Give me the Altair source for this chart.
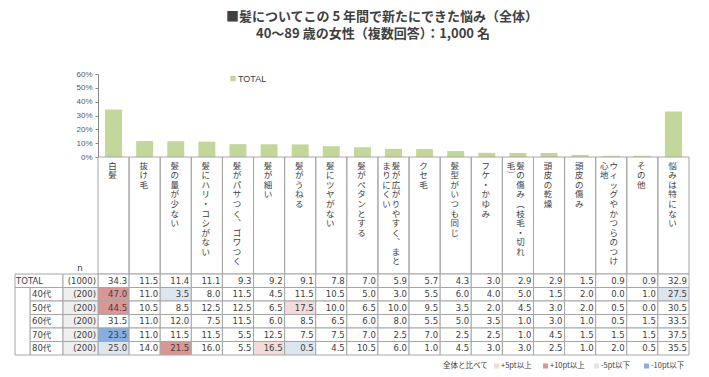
import altair as alt
import pandas as pd

title_lines = ["■髪についてこの 5 年間で新たにできた悩み（全体）",
               "40～89 歳の女性（複数回答）：1,000 名"]

categories = ["白髪", "抜け毛", "髪の量が少ない", "髪にハリ・コシがない", "髪がパサつく、ゴワつく",
              "髪が細い", "髪がうねる", "髪にツヤがない", "髪がペタンとする",
              "髪が広がりやすく、まとまりにくい", "クセ毛", "髪型がいつも同じ", "フケ・かゆみ",
              "髪の傷み（枝毛・切れ毛）", "頭皮の乾燥", "頭皮の傷み", "ウィッグやかつらのつけ心地",
              "その他", "悩みは特にない"]
# where a long label wraps into a second vertical column
label_breaks = {"髪が広がりやすく、まとまりにくい": 11, "髪の傷み（枝毛・切れ毛）": 10,
                "ウィッグやかつらのつけ心地": 11}

row_labels = ["TOTAL", "40代", "50代", "60代", "70代", "80代"]
row_n = [1000, 200, 200, 200, 200, 200]

total = [34.3, 11.5, 11.4, 11.1, 9.3, 9.2, 9.1, 7.8, 7.0, 5.9, 5.7, 4.3, 3.0, 2.9, 2.9, 1.5, 0.9, 0.9, 32.9]
age40 = [47.0, 11.0, 3.5, 8.0, 11.5, 4.5, 11.5, 10.5, 5.0, 3.0, 5.5, 6.0, 4.0, 5.0, 1.5, 2.0, 0.0, 1.0, 27.5]
age50 = [44.5, 10.5, 8.5, 12.5, 12.5, 6.5, 17.5, 10.0, 6.5, 10.0, 9.5, 3.5, 2.0, 4.5, 3.0, 2.0, 0.5, 0.0, 30.5]
age60 = [31.5, 11.0, 12.0, 7.5, 11.5, 6.0, 8.5, 6.5, 6.0, 8.0, 5.5, 5.0, 3.5, 1.0, 3.0, 1.0, 0.5, 1.5, 33.5]
age70 = [23.5, 11.0, 11.5, 11.5, 5.5, 12.5, 7.5, 7.5, 7.0, 2.5, 7.0, 2.5, 2.5, 1.0, 4.5, 1.5, 1.5, 1.5, 37.5]
age80 = [25.0, 14.0, 21.5, 16.0, 5.5, 16.5, 0.5, 4.5, 10.5, 6.0, 1.0, 4.5, 3.0, 3.0, 2.5, 1.0, 2.0, 0.5, 35.5]
rows_values = [total, age40, age50, age60, age70, age80]

y_ticks = [0, 10, 20, 30, 40, 50, 60]
classes = ["なし", "+5pt以上", "+10pt以上", "-5pt以下", "-10pt以下"]
class_colors = ["#ffffff", "#f2dcdb", "#da9694", "#dce6f1", "#86aee0"]
legend_title = "全体と比べて"
series_name = "TOTAL"

GREEN = "#c4d79b"
GRID = "#a6a6a6"
TEXT = "#404040"
JP = "Noto Sans CJK JP"
NUMF = "DejaVu Sans, Noto Sans CJK JP"

# ---------------- data frames ----------------
bar_df = pd.DataFrame({"cat": categories, "value": total})
cat_df = pd.DataFrame({"cat": categories})


def classify(v, t):
    d = v - t
    if d >= 10:
        return classes[2]
    if d >= 5:
        return classes[1]
    if d <= -10:
        return classes[4]
    if d <= -5:
        return classes[3]
    return classes[0]


trows = []
for r, vals in zip(row_labels, rows_values):
    for c, v, t in zip(categories, vals, total):
        trows.append({"cat": c, "row": r, "v": v,
                      "cls": classes[0] if r == "TOTAL" else classify(v, t)})
table_df = pd.DataFrame(trows)

left_df = pd.DataFrame({"row": row_labels, "n": row_n})
left_df["ntxt"] = ["(" + str(n) + ")" for n in row_n]

# vertical (tategaki) labels: one character per line
vert = {"、": "︑", "（": "︵", "）": "︶"}
lrows = []
for c in categories:
    b = label_breaks.get(c)
    parts = [(c, "single")] if b is None else [(c[:b], "first"), (c[b:], "second")]
    for s, pos in parts:
        lrows.append({"cat": c, "pos": pos, "txt": "\n".join(vert.get(ch, ch) for ch in s)})
label_df = pd.DataFrame(lrows)

# ---------------- encodings ----------------
X = alt.X("cat:N", scale=alt.Scale(domain=categories, paddingInner=0, paddingOuter=0), axis=None)
Y_ROW = alt.Y("row:N", scale=alt.Scale(domain=row_labels, range=[214, 295], paddingInner=0, paddingOuter=0),
              axis=None)

bars = alt.Chart(bar_df).mark_bar(width=17, color=GREEN).encode(
    x=X,
    y=alt.Y("value:Q", scale=alt.Scale(domain=[0, 60], range=[97, 14], nice=False),
            axis=alt.Axis(values=y_ticks, labelExpr="datum.value + '%'", title=None, grid=False,
                          domainColor="#868686", tickColor="#868686", tickSize=3,
                          labelFontSize=8, labelColor="#595959", labelFont="Liberation Sans",
                          labelPadding=3)),
)

col_rects = alt.Chart(cat_df).mark_rect(filled=False, stroke=GRID, strokeWidth=1).encode(
    x=X, y=alt.value(97), y2=alt.value(214))

cells = alt.Chart(table_df).mark_rect(stroke=GRID, strokeWidth=1).encode(
    x=X, y=Y_ROW,
    fill=alt.Fill("cls:N", scale=alt.Scale(domain=classes, range=class_colors), legend=None))

cell_text = alt.Chart(table_df).mark_text(align="right", baseline="middle", dx=13.5, font=NUMF,
                                          fontSize=8.5, color=TEXT).encode(
    x=X, y=Y_ROW, text=alt.Text("v:Q", format=".1f"))

tot_label_cell = alt.Chart(left_df).transform_filter("datum.row == 'TOTAL'").mark_rect(
    fill="white", stroke=GRID, strokeWidth=1).encode(x=alt.value(-83), x2=alt.value(-35), y=Y_ROW)
age_label_cell = alt.Chart(left_df).transform_filter("datum.row != 'TOTAL'").mark_rect(
    fill="white", stroke=GRID, strokeWidth=1).encode(x=alt.value(-68), x2=alt.value(-35), y=Y_ROW)
tot_n_cell = alt.Chart(left_df).transform_filter("datum.row == 'TOTAL'").mark_rect(
    fill="white", stroke=GRID, strokeWidth=1).encode(x=alt.value(-35), x2=alt.value(0), y=Y_ROW)
age_n_cell = alt.Chart(left_df).transform_filter("datum.row != 'TOTAL'").mark_rect(
    fill="#efefef", stroke=GRID, strokeWidth=1).encode(x=alt.value(-35), x2=alt.value(0), y=Y_ROW)
indent = alt.Chart(pd.DataFrame({"a": [0]})).mark_rect(
    fill="white", stroke=GRID, strokeWidth=1).encode(
    x=alt.value(-83), x2=alt.value(-68), y=alt.value(227.5), y2=alt.value(295))

tot_label = alt.Chart(left_df).transform_filter("datum.row == 'TOTAL'").mark_text(
    align="left", baseline="middle", font=NUMF, fontSize=8.5, color=TEXT).encode(
    x=alt.value(-82), y=Y_ROW, text="row:N")
age_label = alt.Chart(left_df).transform_filter("datum.row != 'TOTAL'").mark_text(
    align="left", baseline="middle", font=NUMF, fontSize=8.5, color=TEXT).encode(
    x=alt.value(-66), y=Y_ROW, text="row:N")
n_text = alt.Chart(left_df).mark_text(
    align="right", baseline="middle", font=NUMF, fontSize=8.5, color=TEXT).encode(
    x=alt.value(-2), y=Y_ROW, text="ntxt:N")
n_head = alt.Chart(pd.DataFrame({"t": ["n"]})).mark_text(
    align="center", baseline="middle", font=NUMF, fontSize=8.5, color=TEXT).encode(
    x=alt.value(-18), y=alt.value(208), text="t:N")


def label_layer(pos, dx):
    return alt.Chart(label_df).transform_filter(f"datum.pos == '{pos}'").mark_text(
        align="center", baseline="top", dx=dx, font=JP, fontSize=8.5, lineHeight=9.6,
        lineBreak="\n", color=TEXT).encode(
        x=X, y=alt.value(101.5), text="txt:N")


labels = [label_layer("single", -1), label_layer("first", 2.5), label_layer("second", -7)]


def text_at(t, x, y, size, align="left", weight="normal", font=JP):
    return alt.Chart(pd.DataFrame({"t": [t]})).mark_text(
        align=align, baseline="middle", fontSize=size, fontWeight=weight, font=font,
        color=TEXT).encode(x=alt.value(x), y=alt.value(y), text="t:N")


def square_at(color, x, y, size=30):
    return alt.Chart(pd.DataFrame({"a": [0]})).mark_square(
        size=size, color=color, opacity=1).encode(x=alt.value(x), y=alt.value(y))


titles = [text_at(title_lines[0], 284, -43, 13, "center", "bold"),
          text_at(title_lines[1], 275, -26, 13, "center", "bold")]

top_legend = [square_at(GREEN, 135, 18.5, 30),
              text_at(series_name, 140, 18.5, 9, "left", font="Liberation Sans")]

bottom_legend = [text_at(legend_title, 345, 306, 7.5)]
for cls, col, sx in zip(classes[1:], class_colors[1:], [398.5, 447.5, 498.5, 548.5]):
    bottom_legend.append(square_at(col, sx, 306, 25))
    bottom_legend.append(text_at(cls, sx + 4.5, 306, 7.5))

chart = alt.layer(
    bars, col_rects, cells, cell_text,
    tot_label_cell, age_label_cell, indent, tot_n_cell, age_n_cell,
    tot_label, age_label, n_text, n_head,
    *labels, *titles, *top_legend, *bottom_legend,
).resolve_scale(y="independent").properties(
    width=591, height=295,
    autosize=alt.AutoSizeParams(type="none"),
    padding={"left": 90, "top": 52, "right": 8, "bottom": 16},
).configure_view(stroke=None)

chart.save("out.html", embed_options={"renderer": "svg", "actions": False})
